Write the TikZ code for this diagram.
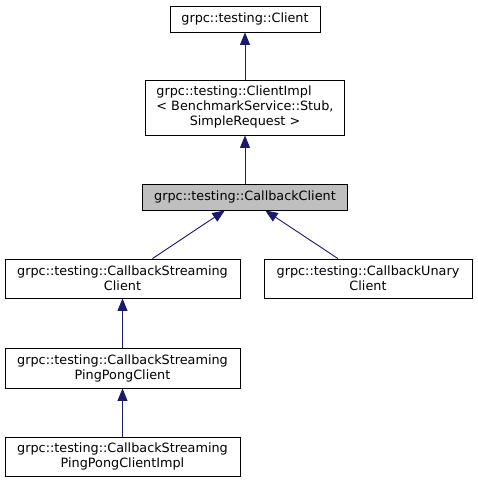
\documentclass[tikz,border=0pt]{standalone}
\usepackage{fontspec}
\setmainfont{DejaVu Sans}
\usetikzlibrary{arrows.meta}
\definecolor{edgeblue}{HTML}{191970}
\definecolor{fillgray}{HTML}{BFBFBF}
\begin{document}
\begin{tikzpicture}[x=1pt,y=-1pt,
  cls/.style={draw=black, line width=0.85pt, fill=white, inner sep=0pt, align=center,
    font=\fontsize{12.8}{15}\selectfont, anchor=center},
  inh/.style={draw=edgeblue, line width=0.9pt,
    {Triangle[length=12.5pt,width=10pt,fill=edgeblue]}-}]
\useasboundingbox[fill=white] (0,0) rectangle (477,484);
\node[cls, minimum width=150pt, minimum height=26pt] (client) at (245,19) {grpc::testing::Client};
\node[cls, minimum width=199pt, minimum height=55pt] (impl) at (245,107.5)
  {\begin{tabular}{@{}l@{}}grpc::testing::ClientImpl\\< BenchmarkService::Stub,\\\multicolumn{1}{@{}c@{}}{SimpleRequest >}\end{tabular}};
\node[cls, fill=fillgray, minimum width=205pt, minimum height=26pt] (cb) at (245,197) {grpc::testing::CallbackClient};
\node[cls, minimum width=235pt, minimum height=39pt] (stream) at (122.5,278.5) {grpc::testing::CallbackStreaming\\Client};
\node[cls, minimum width=208pt, minimum height=39pt] (unary) at (368,278.5) {grpc::testing::CallbackUnary\\Client};
\node[cls, minimum width=235pt, minimum height=40pt] (ping) at (122.5,368) {grpc::testing::CallbackStreaming\\PingPongClient};
\node[cls, minimum width=235pt, minimum height=39pt] (pingimpl) at (122.5,456.5) {grpc::testing::CallbackStreaming\\PingPongClientImpl};
\draw[inh] (client) -- (impl);
\draw[inh] (impl) -- (cb);
\draw[inh] (cb) -- (stream);
\draw[inh] (cb) -- (unary);
\draw[inh] (stream) -- (ping);
\draw[inh] (ping) -- (pingimpl);
\end{tikzpicture}
\end{document}
